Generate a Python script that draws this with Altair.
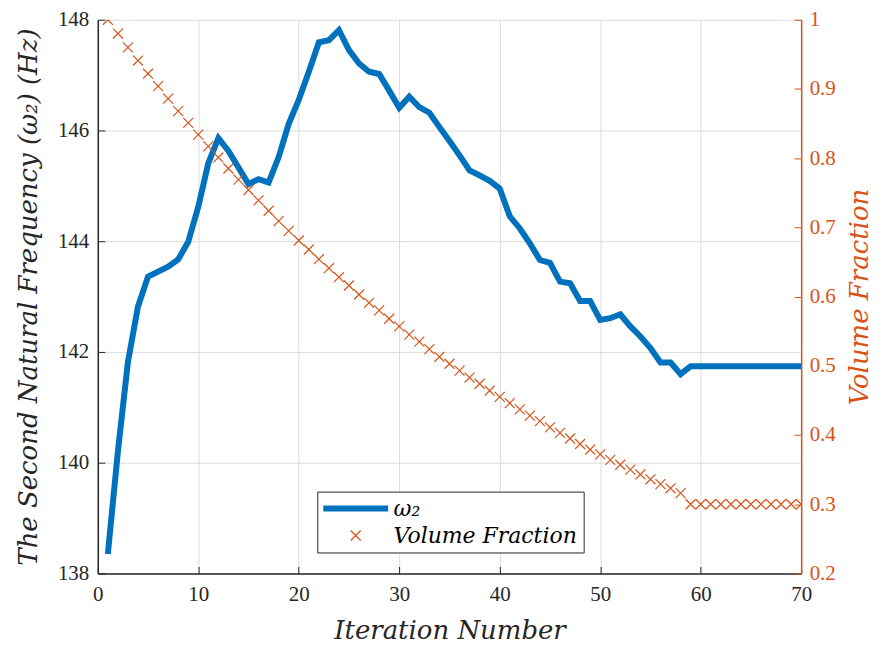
import altair as alt
import pandas as pd

# ---------------- data ----------------
iterations = list(range(1, 71))

omega2 = [
    138.35, 140.20, 141.82, 142.82, 143.36, 143.45, 143.54, 143.67, 143.99, 144.62,
    145.41, 145.86, 145.63, 145.33, 145.03, 145.12, 145.06, 145.52, 146.12, 146.55,
    147.06, 147.59, 147.63, 147.81, 147.45, 147.21, 147.06, 147.02, 146.72, 146.41,
    146.61, 146.42, 146.32, 146.06, 145.81, 145.55, 145.28, 145.19, 145.09, 144.95,
    144.45, 144.23, 143.96, 143.66, 143.61, 143.27, 143.24, 142.92, 142.92, 142.58,
    142.61, 142.68, 142.46, 142.28, 142.07, 141.81, 141.81, 141.60, 141.74, 141.74,
    141.74, 141.74, 141.74, 141.74, 141.74, 141.74, 141.74, 141.74, 141.74, 141.74,
]

volume_fraction = [
    1.000, 0.980, 0.960, 0.941, 0.922, 0.904, 0.886, 0.868, 0.851, 0.834,
    0.817, 0.801, 0.785, 0.769, 0.754, 0.739, 0.724, 0.709, 0.695, 0.681,
    0.668, 0.654, 0.641, 0.628, 0.616, 0.603, 0.591, 0.580, 0.568, 0.557,
    0.545, 0.535, 0.524, 0.513, 0.503, 0.493, 0.483, 0.474, 0.464, 0.455,
    0.446, 0.437, 0.428, 0.420, 0.411, 0.403, 0.395, 0.387, 0.379, 0.372,
    0.364, 0.357, 0.350, 0.343, 0.336, 0.329, 0.323, 0.316, 0.300, 0.300,
    0.300, 0.300, 0.300, 0.300, 0.300, 0.300, 0.300, 0.300, 0.300, 0.300,
]

series_names = ["ω₂", "Volume Fraction"]
x_ticks = [0, 10, 20, 30, 40, 50, 60, 70]
left_ticks = [138, 140, 142, 144, 146, 148]
right_ticks = [0.2, 0.3, 0.4, 0.5, 0.6, 0.7, 0.8, 0.9, 1.0]

# ---------------- styling ----------------
BLUE = "#0072BD"
ORANGE = "#D95319"
AXIS = "#262626"
GRID = "#dcdcdc"
W, H = 705, 555
XPATH = "M-1,-1L1,1M-1,1L1,-1"
TICK_FONT = "Liberation Serif, Times New Roman, serif"
TITLE_FONT = "DejaVu Serif"

df_w = pd.DataFrame({"iter": iterations, "value": omega2, "series": series_names[0]})
df_v = pd.DataFrame({"iter": iterations, "value": volume_fraction, "series": series_names[1]})

is_first = f"datum.value === '{series_names[0]}'"

legend = alt.Legend(
    title=None,
    orient="none",
    legendX=220,
    legendY=473,
    fillColor="white",
    strokeColor=AXIS,
    padding=6,
    rowPadding=4,
    symbolType=alt.ExprRef(expr=f"{is_first} ? 'stroke' : '{XPATH}'"),
    symbolSize=alt.ExprRef(expr=f"{is_first} ? 4225 : 100"),
    symbolStrokeWidth=alt.ExprRef(expr=f"{is_first} ? 6 : 1.2"),
    symbolStrokeColor=alt.ExprRef(expr=f"{is_first} ? '{BLUE}' : '{ORANGE}'"),
    symbolFillColor="transparent",
    symbolOpacity=1,
    symbolOffset=21.5,
    labelOffset=27,
    labelFont=TITLE_FONT,
    labelFontStyle="italic",
    labelFontSize=22,
    labelColor="black",
    labelLimit=400,
)

color = alt.Color(
    "series:N",
    scale=alt.Scale(domain=series_names, range=[BLUE, ORANGE]),
    legend=legend,
)

x_scale = alt.Scale(domain=[0, 70], nice=False, zero=False)
left_scale = alt.Scale(domain=[138, 148], nice=False, zero=False)
right_scale = alt.Scale(domain=[0.2, 1.0], nice=False, zero=False)

title_style = dict(
    titleFont=TITLE_FONT,
    titleFontStyle="italic",
    titleFontWeight="normal",
    titleFontSize=26,
    titleBaseline="alphabetic",
    titleAlign="center",
)
label_style = dict(labelFont=TICK_FONT, labelFontSize=21)

x_main = alt.X(
    "iter:Q",
    scale=x_scale,
    axis=alt.Axis(
        orient="bottom",
        values=x_ticks,
        title="Iteration Number",
        titleX=W / 2,
        titleY=65,
        titleColor=AXIS,
        labelColor=AXIS,
        labelPadding=10,
        labelFlush=False,
        ticks=False,
        domainColor=AXIS,
        domainWidth=1.5,
        grid=True,
        gridColor=GRID,
        gridWidth=1,
        **title_style,
        **label_style,
    ),
)

# blue line with left axis
line = alt.Chart(df_w).mark_line(strokeWidth=6, clip=True).encode(
    x=x_main,
    y=alt.Y(
        "value:Q",
        scale=left_scale,
        axis=alt.Axis(
            values=left_ticks,
            orient="left",
            title="The Second Natural Frequency (ω₂) (Hz)",
            titleX=-61,
            titleY=H / 2,
            titleAngle=270,
            titleColor=AXIS,
            labelColor=AXIS,
            labelPadding=9,
            ticks=False,
            domainColor=AXIS,
            domainWidth=1.5,
            grid=True,
            gridColor=GRID,
            gridWidth=1,
            **title_style,
            **label_style,
        ),
    ),
    color=color,
)

# orange crosses with right axis
points = alt.Chart(df_v).mark_point(
    shape=XPATH, filled=False, size=100, strokeWidth=1.2, opacity=1, clip=True
).encode(
    x=alt.X("iter:Q", scale=x_scale, axis=None),
    y=alt.Y(
        "value:Q",
        scale=right_scale,
        axis=alt.Axis(
            values=right_ticks,
            orient="right",
            format=".1~f",
            title="Volume Fraction",
            titleX=66,
            titleY=H / 2,
            titleAngle=270,
            titleColor=ORANGE,
            labelColor=ORANGE,
            labelPadding=8,
            ticks=False,
            domainColor=ORANGE,
            domainWidth=1.5,
            grid=False,
            **title_style,
            **label_style,
        ),
    ),
    color=color,
)

# inward-pointing ticks (MATLAB style) for bottom and left axes
inner_ticks_lb = alt.Chart(df_w).mark_point(opacity=0).encode(
    x=alt.X(
        "iter:Q",
        scale=x_scale,
        axis=alt.Axis(
            orient="top", offset=-H, values=x_ticks, labels=False, domain=False,
            grid=False, ticks=True, tickSize=7, tickColor=AXIS, tickWidth=1, title=None,
        ),
    ),
    y=alt.Y(
        "value:Q",
        scale=left_scale,
        axis=alt.Axis(
            orient="right", offset=-W, values=left_ticks, labels=False, domain=False,
            grid=False, ticks=True, tickSize=7, tickColor=AXIS, tickWidth=1, title=None,
        ),
    ),
)

# inward-pointing ticks for the right axis
inner_ticks_r = alt.Chart(df_v).mark_point(opacity=0).encode(
    x=alt.X("iter:Q", scale=x_scale, axis=None),
    y=alt.Y(
        "value:Q",
        scale=right_scale,
        axis=alt.Axis(
            orient="left", offset=-W, values=right_ticks, labels=False, domain=False,
            grid=False, ticks=True, tickSize=7, tickColor=ORANGE, tickWidth=1, title=None,
        ),
    ),
)

chart = (
    alt.layer(line, points, inner_ticks_lb, inner_ticks_r)
    .resolve_scale(y="independent")
    .properties(
        width=W,
        height=H,
        padding={"left": 90, "top": 11, "right": 72, "bottom": 76},
        autosize=alt.AutoSizeParams(type="none"),
    )
    .configure_view(stroke=None)
)

chart.save("out.html", embed_options={"renderer": "svg", "actions": False})
